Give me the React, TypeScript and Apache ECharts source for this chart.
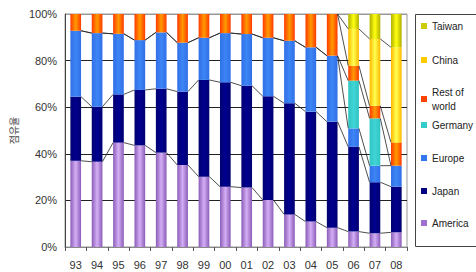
import React, { useEffect, useRef } from "react";
import * as echarts from "echarts";

const years = ["93", "94", "95", "96", "97", "98", "99", "00", "01", "02", "03", "04", "05", "06", "07", "08"];
const america = [37, 36.6, 44.8, 43.6, 40.5, 35.2, 30.2, 25.9, 25.5, 20.2, 14.0, 10.9, 8.3, 6.6, 5.9, 6.3];
const japan = [27.5, 23.6, 20.7, 23.8, 27.4, 31.5, 41.5, 44.8, 43.7, 44.5, 47.7, 47.2, 45.5, 36.4, 21.9, 19.6];
const europe = [28.3, 31.6, 26.0, 21.4, 24.2, 21.0, 18.1, 21.1, 22.2, 25.1, 26.8, 27.6, 28.3, 7.9, 7.1, 9.0];
const germany = [0, 0, 0, 0, 0, 0, 0, 0, 0, 0, 0, 0, 0, 20.5, 20.3, 0];
const restOfWorld = [7.2, 8.2, 8.5, 11.2, 7.9, 12.3, 10.2, 8.2, 8.6, 10.2, 11.5, 14.3, 17.9, 6.4, 5.4, 10.0];
const china = [0, 0, 0, 0, 0, 0, 0, 0, 0, 0, 0, 0, 0, 15.8, 28.7, 40.8];
const taiwan = [0, 0, 0, 0, 0, 0, 0, 0, 0, 0, 0, 0, 0, 6.4, 10.7, 14.3];
const yTicks = [0, 20, 40, 60, 80, 100];

const seriesNames = ["America", "Japan", "Europe", "Germany", "Rest of world", "China", "Taiwan"];
const seriesData = [america, japan, europe, germany, restOfWorld, china, taiwan];

const grad = (edge: string, center: string) => ({
  type: "linear",
  x: 0,
  y: 0,
  x2: 1,
  y2: 0,
  colorStops: [
    { offset: 0, color: edge },
    { offset: 0.5, color: center },
    { offset: 1, color: edge },
  ],
});

const colors: any[] = [
  grad("#8a5cb8", "#d4aef5"),
  grad("#000070", "#000090"),
  grad("#3070e8", "#3d85f5"),
  grad("#30c4c4", "#40d4d4"),
  grad("#ff3a00", "#ff9a00"),
  grad("#ffb800", "#ffff50"),
  grad("#b0b000", "#ffff10"),
];
const legendColors = ["#a070d0", "#000080", "#3377ee", "#33cccc", "#ff4400", "#ffcc00", "#cccc00"];

const BAR_FRAC = 0.5;
const FONT = "Liberation Sans, Arial, sans-serif";

export default function App() {
  const ref = useRef<HTMLDivElement>(null);
  useEffect(() => {
    if (!ref.current) return;
    const chart = echarts.init(ref.current, undefined, { renderer: "svg" });

    const lineData: number[][] = [];
    for (let k = 0; k < seriesData.length; k++) {
      for (let i = 0; i < years.length - 1; i++) {
        let a = 0;
        let b = 0;
        for (let j = 0; j <= k; j++) {
          a += seriesData[j][i];
          b += seriesData[j][i + 1];
        }
        if (a >= 99.9 && b >= 99.9) continue;
        lineData.push([i, a, b]);
      }
    }

    const legendTops = [19, 53, 85, 118, 151, 184, 216];
    const legends = seriesNames
      .slice()
      .reverse()
      .map((n, idx) => ({
        data: [{ name: n, itemStyle: { color: legendColors[seriesNames.indexOf(n)] } }],
        left: 421,
        top: legendTops[idx],
        padding: 0,
        orient: "vertical",
        itemWidth: 6,
        itemHeight: 6,
        icon: "rect",
        selectedMode: false,
        formatter: (name: string) => (name === "Rest of world" ? "Rest of\nworld" : name),
        textStyle: { fontFamily: FONT, fontSize: 10, color: "#222", lineHeight: 14 },
      }));

    const bars = seriesNames.map((n, k) => ({
      name: n,
      type: "bar",
      stack: "total",
      barWidth: "50%",
      data: seriesData[k],
      itemStyle: { color: colors[k] },
      z: 2,
    }));

    chart.setOption({
      animation: false,
      grid: { left: 58, right: 69, top: 14, bottom: 25, show: true, borderColor: "#999", borderWidth: 1 },
      legend: legends,
      xAxis: {
        type: "category",
        data: years,
        boundaryGap: true,
        axisLine: { lineStyle: { color: "#888" } },
        axisTick: { show: true, length: 4, lineStyle: { color: "#555" } },
        axisLabel: { fontFamily: FONT, fontSize: 11, color: "#333", margin: 12 },
      },
      yAxis: {
        type: "value",
        min: yTicks[0],
        max: yTicks[yTicks.length - 1],
        interval: 20,
        name: "점유율",
        nameLocation: "middle",
        nameRotate: 90,
        nameGap: 40,
        nameTextStyle: { fontFamily: "Noto Sans CJK KR", fontSize: 10, color: "#444" },
        axisLine: { show: true, lineStyle: { color: "#444" } },
        axisTick: { show: false },
        axisLabel: { formatter: "{value}%", fontFamily: FONT, fontSize: 11, color: "#333", margin: 8 },
        splitLine: { lineStyle: { color: ["#999", "#222", "#222", "#222", "#222", "#999"], width: 1 } },
      },
      graphic: [
        {
          type: "rect",
          shape: { x: 415.5, y: 14.5, width: 80, height: 232 },
          style: { fill: "none", stroke: "#444", lineWidth: 1 },
          z: 10,
        },
      ],
      series: [
        ...bars,
        {
          type: "custom",
          name: "serieslines",
          data: lineData,
          encode: { x: 0, y: 1 },
          z: 5,
          silent: true,
          renderItem: (params: any, api: any) => {
            const i = api.value(0);
            const p1 = api.coord([i, api.value(1)]);
            const p2 = api.coord([i + 1, api.value(2)]);
            const bw = api.size([1, 0])[0];
            const half = (bw * BAR_FRAC) / 2;
            return {
              type: "line",
              shape: { x1: p1[0] + half, y1: p1[1], x2: p2[0] - half, y2: p2[1] },
              style: { stroke: "#222", lineWidth: 0.8 },
            };
          },
        },
      ],
    } as any);
    return () => chart.dispose();
  }, []);
  return <div ref={ref} style={{ width: 476, height: 272, position: "absolute", left: 0, top: 0 }} />;
}
